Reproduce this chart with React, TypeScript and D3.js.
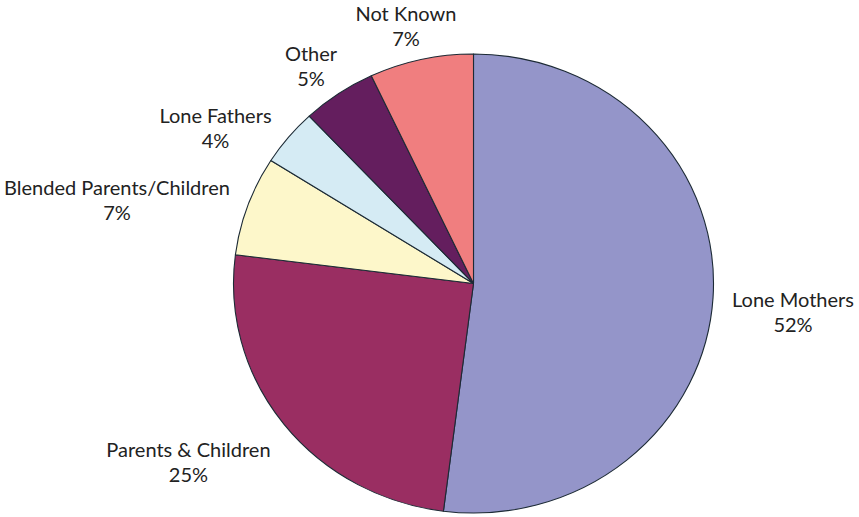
import React from "react";
import * as d3 from "d3";

const categories = ["Lone Mothers", "Parents & Children", "Blended Parents/Children", "Lone Fathers", "Other", "Not Known"];
const values = [52, 25, 7, 4, 5, 7];
const percentLabels = ["52%", "25%", "7%", "4%", "5%", "7%"];
const colors = ["#9495C9", "#9A2E62", "#FDF7CA", "#D5EBF4", "#641E5E", "#F07E7F"];

// label nudges (layout only) relative to the slice's outer edge at its mid-angle
const labelNudges: [number, number][] = [
  [80, 9],
  [-95.4, 32.8],
  [-130.7, -10.8],
  [-73.1, -14.2],
  [-27.6, -32.7],
  [-15.2, -38.5],
];

const W = 859;
const H = 517;
const cx = 473.5;
const cy = 283.5;
const rx = 240;
const ry = 229.5;

export default function App() {
  const pie = d3.pie<number>().sort(null).value((d) => d).startAngle(0).endAngle(2 * Math.PI);
  const arcs = pie(values);
  const arc = d3.arc<d3.PieArcDatum<number>>().innerRadius(0).outerRadius(ry);
  const sx = rx / ry;

  return (
    <svg width={W} height={H} style={{ position: "absolute", left: 0, top: 0, background: "#fff" }}>
      <g transform={`translate(${cx},${cy}) scale(${sx},1)`}>
        {arcs.map((a, i) => (
          <path
            key={i}
            d={arc(a) || ""}
            fill={colors[i]}
            stroke="#1c2a35"
            strokeWidth={1.1}
            vectorEffect="non-scaling-stroke"
            strokeLinejoin="round"
          />
        ))}
      </g>
      <g fontFamily="Lato, 'Open Sans', sans-serif" fontSize={20} fill="#222" textAnchor="middle">
        {arcs.map((a, i) => {
          const mid = (a.startAngle + a.endAngle) / 2;
          const ex = cx + rx * Math.sin(mid);
          const ey = cy - ry * Math.cos(mid);
          const x = ex + labelNudges[i][0];
          const y = ey + labelNudges[i][1];
          return (
            <text key={i} x={x} y={y}>
              <tspan x={x} y={y}>{categories[i]}</tspan>
              <tspan x={x} y={y + 25}>{percentLabels[i]}</tspan>
            </text>
          );
        })}
      </g>
    </svg>
  );
}
